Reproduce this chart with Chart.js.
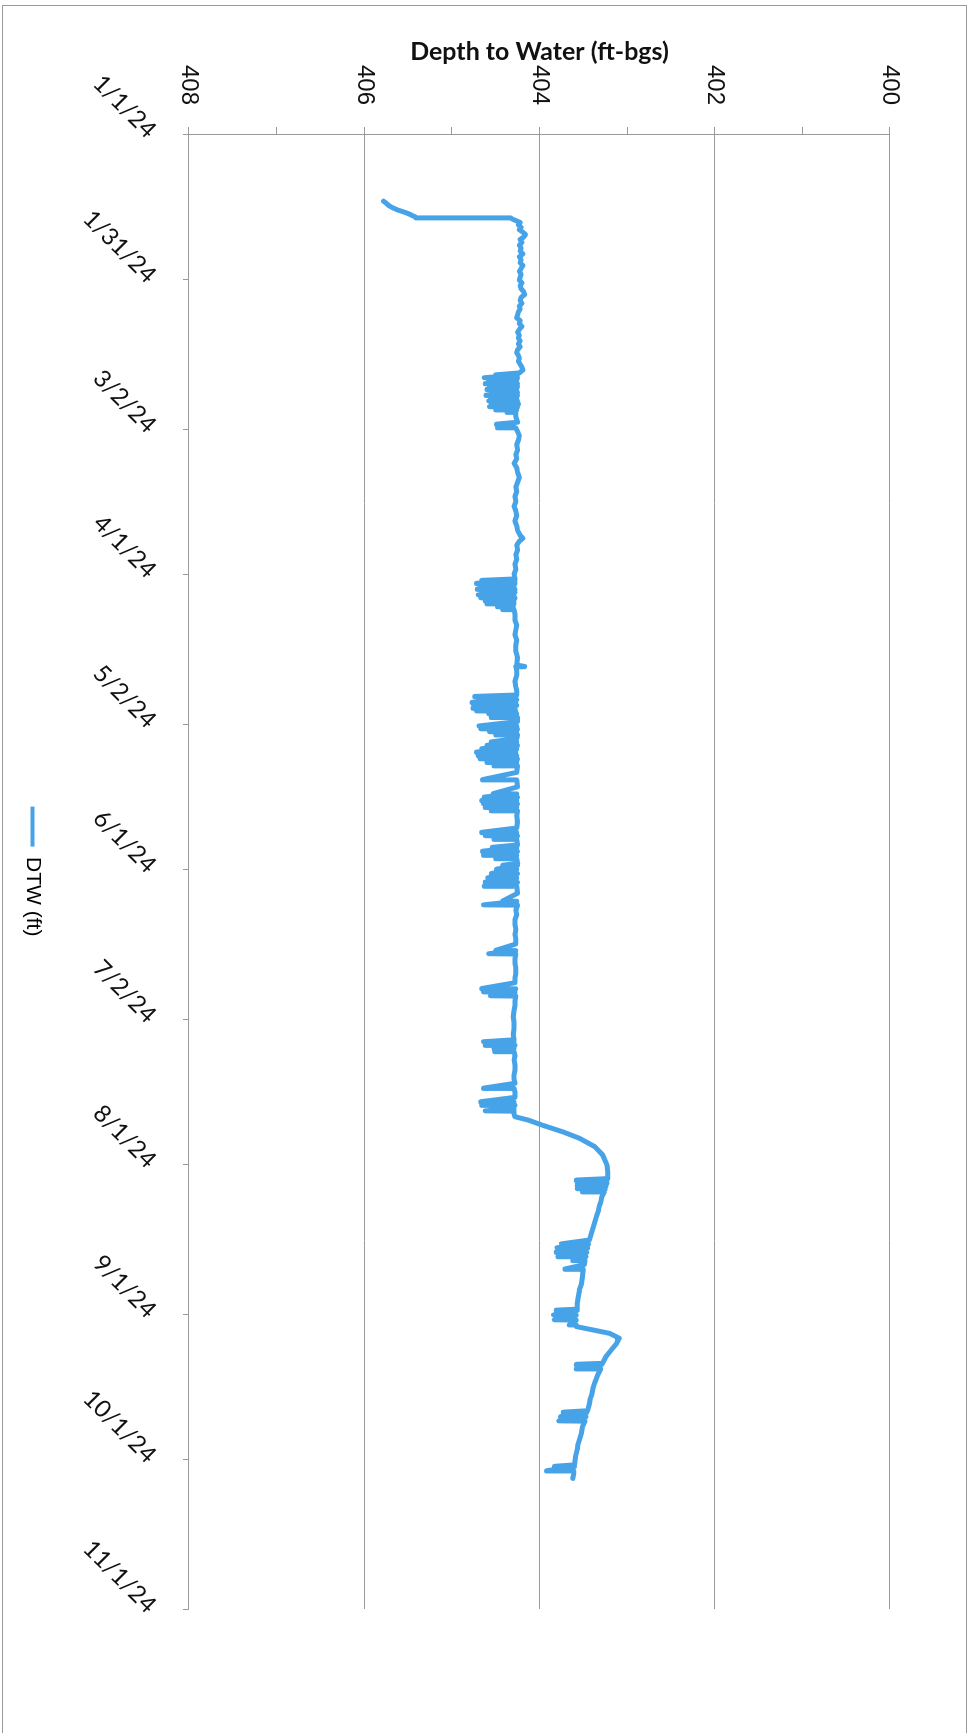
<!DOCTYPE html>
<html><head><meta charset="utf-8">
<script src="https://cdn.jsdelivr.net/npm/chart.js@4.4.1/dist/chart.umd.min.js"></script>
<style>
html,body{margin:0;padding:0;background:#fff;overflow:hidden;width:971px;height:1733px;}
#frame{position:absolute;left:2px;top:5px;width:965px;height:1760px;border:1px solid #9a9a9a;box-sizing:border-box;pointer-events:none;}
#wrap{position:absolute;left:0;top:0;width:1733px;height:971px;transform-origin:0 0;transform:translate(971px,0) rotate(90deg);}
#c{display:block;}
</style></head><body>
<div id="frame"></div>
<div id="wrap"><canvas id="c" width="1733" height="971"></canvas></div>
<script>
// Date axis: day number since 1/1/24 and labels
const tickDays = [0, 30, 61, 91, 122, 152, 183, 213, 244, 274, 305];
const tickLabels = ['1/1/24','1/31/24','3/2/24','4/1/24','5/2/24','6/1/24','7/2/24','8/1/24','9/1/24','10/1/24','11/1/24'];
// Depth axis ticks (labels on even values only)
const depthTicks = [400, 401, 402, 403, 404, 405, 406, 407, 408];

// Series "DTW (ft)": day since 1/1/24 and depth to water (ft-bgs)
const days = [
 13.9, 14.3, 14.8, 15.3, 15.7, 16.0, 16.3, 16.6, 16.9, 17.2,
 17.35, 17.6, 17.9, 18.3, 18.8, 19.3, 19.8, 20.3, 20.8, 21.3,
 21.8, 22.4, 23.0, 23.6, 24.2, 24.8, 25.4, 26.0, 26.6, 27.2,
 27.8, 28.4, 29.0, 29.6, 30.2, 30.8, 31.4, 32.0, 32.6, 33.2,
 33.8, 34.4, 35.0, 35.6, 36.2, 36.8, 37.4, 38.0, 38.6, 39.2,
 39.8, 40.4, 41.0, 41.6, 42.2, 42.8, 43.4, 44.0, 44.6, 45.2,
 45.8, 46.4, 47.0, 47.6, 48.2, 48.8, 49.4, 49.8, 49.86, 50.4,
 50.46, 51.0, 51.06, 51.6, 51.66, 52.2, 52.26, 52.8, 52.86, 53.4,
 53.46, 54.0, 54.06, 54.6, 54.66, 55.2, 55.26, 55.8, 55.86, 56.4,
 56.46, 57.0, 57.06, 57.5, 57.56, 58.5, 59.6, 60.0, 60.06, 60.7,
 60.76, 61.5, 62.3, 63.3, 64.3, 65.3, 66.3, 67.2, 68.1, 69.0,
 70.0, 71.0, 72.0, 73.0, 74.0, 75.0, 76.0, 77.0, 78.0, 79.0,
 80.0, 81.0, 82.0, 83.0, 83.6, 84.2, 85.0, 86.0, 87.0, 88.0,
 89.0, 90.0, 91.0, 92.0, 92.3, 92.36, 92.9, 92.96, 93.5, 93.56,
 94.1, 94.16, 94.7, 94.76, 95.3, 95.36, 95.9, 95.96, 96.5, 96.56,
 97.1, 97.16, 97.7, 97.76, 98.3, 98.36, 99.3, 100.5, 101.5, 102.5,
 103.5, 104.6, 105.8, 107.0, 108.3, 109.8, 110.1, 110.16, 111.0, 112.0,
 113.2, 114.3, 115.2, 116.0, 116.3, 116.36, 116.9, 116.96, 117.5, 117.56,
 118.1, 118.16, 118.7, 118.76, 119.3, 119.36, 119.9, 119.96, 120.6, 120.66,
 121.5, 122.4, 122.46, 123.0, 123.06, 123.6, 123.66, 124.2, 124.26, 125.0,
 125.7, 125.76, 126.4, 126.46, 127.1, 127.16, 127.8, 127.86, 128.5, 128.56,
 129.2, 129.26, 129.9, 129.96, 130.6, 130.66, 132.0, 133.5, 133.56, 135.0,
 136.4, 136.46, 137.1, 137.16, 137.8, 137.86, 138.5, 138.56, 139.2, 139.26,
 139.9, 139.96, 141.0, 142.2, 143.5, 144.4, 144.46, 145.1, 145.16, 145.8,
 145.86, 147.0, 147.5, 147.56, 148.3, 148.36, 149.1, 149.16, 149.8, 149.86,
 150.8, 151.2, 151.26, 152.0, 152.06, 152.9, 152.96, 153.8, 153.86, 154.7,
 154.76, 155.5, 155.56, 157.0, 158.6, 158.66, 159.4, 159.46, 160.5, 161.5,
 162.5, 163.5, 164.5, 165.5, 166.5, 167.5, 168.8, 168.86, 169.5, 169.56,
 170.5, 171.5, 172.5, 173.5, 174.5, 175.5, 176.7, 176.76, 177.4, 177.46,
 178.2, 178.26, 179.2, 180.2, 181.3, 182.5, 183.7, 185.0, 186.2, 187.3,
 187.7, 187.76, 188.4, 188.46, 189.1, 189.16, 189.7, 189.76, 190.6, 191.5,
 192.5, 193.5, 194.5, 195.5, 196.3, 197.3, 197.36, 198.2, 199.2, 200.1,
 200.16, 200.8, 200.86, 201.5, 201.56, 202.0, 202.06, 202.7, 203.2, 203.9,
 205.0, 206.3, 207.7, 209.4, 211.1, 213.2, 214.6, 216.0, 216.3, 216.36,
 216.9, 216.96, 217.5, 217.56, 218.1, 218.16, 218.7, 218.76, 219.8, 220.8,
 221.8, 222.8, 223.9, 225.1, 226.3, 227.5, 228.7, 229.5, 229.56, 230.3,
 230.36, 231.2, 231.26, 232.1, 232.16, 232.9, 232.96, 233.8, 234.7, 234.76,
 236.2, 237.7, 238.7, 239.7, 240.8, 241.8, 243.0, 243.2, 243.26, 244.2,
 244.26, 245.2, 245.26, 246.2, 246.26, 246.6, 247.3, 248.0, 249.0, 250.1,
 251.4, 252.8, 254.2, 254.4, 254.46, 255.3, 255.36, 256.8, 258.3, 259.4,
 260.4, 261.5, 262.5, 264.0, 264.3, 264.36, 265.2, 265.26, 266.1, 266.16,
 267.3, 268.5, 269.7, 270.9, 272.1, 273.6, 275.2, 275.5, 275.56, 276.4,
 276.46, 277.2, 278.0
];
const dtw = [
 405.78, 405.75, 405.72, 405.67, 405.62, 405.57, 405.52, 405.48, 405.45, 405.41,
 404.33, 404.31, 404.27, 404.22, 404.24, 404.21, 404.23, 404.19, 404.16, 404.18,
 404.22, 404.20, 404.23, 404.21, 404.22, 404.19, 404.23, 404.21, 404.22, 404.19,
 404.21, 404.23, 404.21, 404.22, 404.23, 404.20, 404.22, 404.21, 404.18, 404.17,
 404.21, 404.22, 404.20, 404.23, 404.22, 404.24, 404.25, 404.26, 404.22, 404.23,
 404.20, 404.23, 404.25, 404.23, 404.24, 404.22, 404.24, 404.22, 404.25, 404.26,
 404.24, 404.23, 404.24, 404.22, 404.20, 404.19, 404.23, 404.50, 404.25, 404.63,
 404.25, 404.58, 404.26, 404.62, 404.25, 404.57, 404.25, 404.60, 404.26, 404.55,
 404.25, 404.61, 404.25, 404.56, 404.26, 404.58, 404.25, 404.55, 404.24, 404.57,
 404.25, 404.50, 404.26, 404.37, 404.27, 404.27, 404.25, 404.49, 404.30, 404.48,
 404.27, 404.25, 404.23, 404.24, 404.26, 404.25, 404.27, 404.26, 404.29, 404.26,
 404.25, 404.23, 404.25, 404.27, 404.26, 404.28, 404.27, 404.29, 404.27, 404.26,
 404.28, 404.26, 404.25, 404.22, 404.19, 404.23, 404.26, 404.25, 404.27, 404.26,
 404.28, 404.27, 404.29, 404.28, 404.66, 404.28, 404.72, 404.28, 404.68, 404.29,
 404.71, 404.28, 404.66, 404.28, 404.70, 404.29, 404.67, 404.28, 404.62, 404.29,
 404.60, 404.29, 404.48, 404.30, 404.42, 404.29, 404.28, 404.28, 404.26, 404.27,
 404.28, 404.26, 404.27, 404.27, 404.25, 404.26, 404.17, 404.27, 404.26, 404.26,
 404.28, 404.27, 404.26, 404.26, 404.74, 404.27, 404.70, 404.26, 404.77, 404.27,
 404.75, 404.26, 404.76, 404.28, 404.72, 404.27, 404.58, 404.26, 404.55, 404.25,
 404.25, 404.69, 404.26, 404.67, 404.25, 404.57, 404.26, 404.50, 404.25, 404.26,
 404.55, 404.26, 404.60, 404.25, 404.66, 404.26, 404.72, 404.27, 404.70, 404.26,
 404.68, 404.25, 404.60, 404.26, 404.52, 404.25, 404.26, 404.65, 404.26, 404.25,
 404.53, 404.26, 404.63, 404.25, 404.66, 404.26, 404.64, 404.25, 404.62, 404.26,
 404.55, 404.25, 404.26, 404.25, 404.26, 404.66, 404.26, 404.62, 404.25, 404.52,
 404.26, 404.25, 404.54, 404.26, 404.65, 404.25, 404.64, 404.26, 404.50, 404.26,
 404.25, 404.42, 404.25, 404.49, 404.26, 404.55, 404.25, 404.59, 404.26, 404.62,
 404.25, 404.63, 404.26, 404.25, 404.42, 404.26, 404.64, 404.25, 404.27, 404.26,
 404.28, 404.28, 404.27, 404.28, 404.27, 404.27, 404.50, 404.27, 404.58, 404.27,
 404.28, 404.28, 404.27, 404.27, 404.28, 404.28, 404.66, 404.27, 404.64, 404.28,
 404.56, 404.27, 404.28, 404.28, 404.29, 404.30, 404.29, 404.29, 404.30, 404.29,
 404.64, 404.29, 404.62, 404.28, 404.52, 404.29, 404.51, 404.29, 404.28, 404.29,
 404.28, 404.28, 404.29, 404.29, 404.28, 404.64, 404.29, 404.28, 404.28, 404.67,
 404.29, 404.66, 404.28, 404.55, 404.29, 404.62, 404.29, 404.29, 404.28, 404.13,
 403.96, 403.74, 403.54, 403.37, 403.28, 403.23, 403.22, 403.22, 403.58, 403.23,
 403.57, 403.23, 403.57, 403.24, 403.57, 403.25, 403.51, 403.26, 403.29, 403.30,
 403.32, 403.33, 403.35, 403.37, 403.39, 403.41, 403.43, 403.75, 403.44, 403.80,
 403.45, 403.81, 403.46, 403.79, 403.47, 403.62, 403.48, 403.49, 403.71, 403.50,
 403.51, 403.52, 403.54, 403.55, 403.56, 403.57, 403.57, 403.81, 403.57, 403.84,
 403.58, 403.83, 403.58, 403.66, 403.58, 403.58, 403.39, 403.20, 403.09, 403.12,
 403.18, 403.24, 403.28, 403.58, 403.29, 403.58, 403.30, 403.34, 403.37, 403.39,
 403.40, 403.42, 403.43, 403.45, 403.73, 403.46, 403.76, 403.47, 403.78, 403.48,
 403.51, 403.52, 403.54, 403.56, 403.57, 403.59, 403.60, 403.83, 403.60, 403.92,
 403.61, 403.61, 403.62
];

const lineColor = '#46A3E8';
const gridColor = '#9a9a9a';

new Chart(document.getElementById('c'), {
  type: 'line',
  data: {
    datasets: [{
      label: 'DTW (ft)',
      data: days.map((d, i) => ({ x: d, y: dtw[i] })),
      borderColor: lineColor,
      backgroundColor: lineColor,
      borderWidth: 5,
      pointRadius: 0,
      tension: 0,
      fill: false,
      borderJoinStyle: 'round',
      borderCapStyle: 'round'
    }]
  },
  options: {
    responsive: false,
    animation: false,
    layout: { padding: { left: 0, right: 124, top: 81, bottom: 12 } },
    scales: {
      x: {
        type: 'linear',
        min: tickDays[0],
        max: tickDays[tickDays.length - 1],
        afterBuildTicks: s => { s.ticks = tickDays.map(v => ({ value: v })); },
        afterFit: s => { s.height = 136; },
        ticks: {
          autoSkip: false, minRotation: 45, maxRotation: 45, padding: 21,
          font: { family: 'Lato', size: 24 }, color: '#111',
          callback: v => { const i = tickDays.indexOf(v); return i >= 0 ? tickLabels[i] : ''; }
        },
        grid: { drawOnChartArea: false, drawTicks: true, tickLength: 6, tickColor: gridColor },
        border: { display: true, color: gridColor, width: 1 }
      },
      y: {
        type: 'linear',
        reverse: true,
        min: depthTicks[0],
        max: depthTicks[depthTicks.length - 1],
        afterBuildTicks: s => { s.ticks = depthTicks.map(v => ({ value: v })); },
        afterFit: s => { s.width = 134; },
        ticks: {
          padding: 22,
          font: { family: 'Liberation Sans', size: 24 }, color: '#111',
          callback: v => (v % 2 === 0 ? String(v) : '')
        },
        grid: {
          color: c => (c.tick && c.tick.value % 2 === 0 ? gridColor : 'rgba(0,0,0,0)'),
          tickColor: gridColor, tickLength: 7, lineWidth: 1
        },
        border: { display: true, color: gridColor, width: 1 },
        title: {
          display: true, text: 'Depth to Water (ft-bgs)', color: '#111',
          font: { family: 'Lato', size: 25, weight: 'bold' },
          padding: { top: 37, bottom: 0 }
        }
      }
    },
    plugins: {
      tooltip: { enabled: false },
      title: { display: false },
      legend: {
        position: 'bottom',
        fullSize: false,
        labels: {
          boxWidth: 40, boxHeight: 4, padding: 10,
          font: { family: 'Liberation Sans', size: 21 }, color: '#111',
          generateLabels: () => [{ text: 'DTW (ft)', fillStyle: lineColor, strokeStyle: lineColor, lineWidth: 0, hidden: false, datasetIndex: 0 }]
        }
      }
    }
  }
});
</script>
</body></html>
